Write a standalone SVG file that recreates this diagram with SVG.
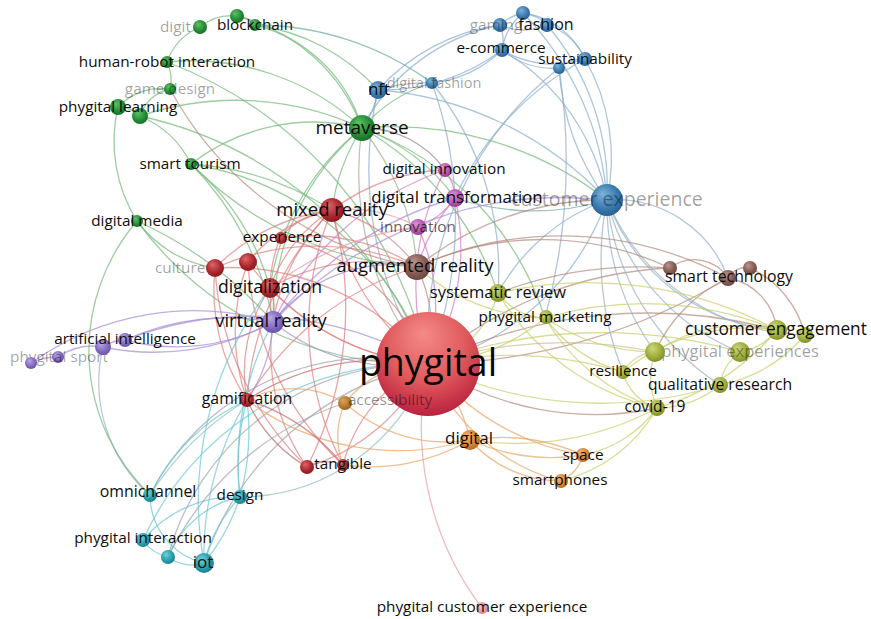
<svg xmlns="http://www.w3.org/2000/svg" width="871" height="619" viewBox="0 0 871 619">
<defs>
<radialGradient id="gr" cx="0.45" cy="0.4" r="0.6" fx="0.35" fy="0.3"><stop offset="0" stop-color="#dc6868"/><stop offset="0.7" stop-color="#a8242c"/><stop offset="1" stop-color="#8a1c22"/></radialGradient>
<radialGradient id="gg" cx="0.45" cy="0.4" r="0.6" fx="0.35" fy="0.3"><stop offset="0" stop-color="#5fc266"/><stop offset="0.7" stop-color="#238a34"/><stop offset="1" stop-color="#1a6e29"/></radialGradient>
<radialGradient id="gb" cx="0.45" cy="0.4" r="0.6" fx="0.35" fy="0.3"><stop offset="0" stop-color="#7eb3da"/><stop offset="0.7" stop-color="#3878ac"/><stop offset="1" stop-color="#2a6290"/></radialGradient>
<radialGradient id="gv" cx="0.45" cy="0.4" r="0.6" fx="0.35" fy="0.3"><stop offset="0" stop-color="#bca8e8"/><stop offset="0.7" stop-color="#8068be"/><stop offset="1" stop-color="#6a54a6"/></radialGradient>
<radialGradient id="gbr" cx="0.45" cy="0.4" r="0.6" fx="0.35" fy="0.3"><stop offset="0" stop-color="#bc968e"/><stop offset="0.7" stop-color="#825a52"/><stop offset="1" stop-color="#6c4842"/></radialGradient>
<radialGradient id="go" cx="0.45" cy="0.4" r="0.6" fx="0.35" fy="0.3"><stop offset="0" stop-color="#cfd87c"/><stop offset="0.7" stop-color="#9cab38"/><stop offset="1" stop-color="#808e2a"/></radialGradient>
<radialGradient id="gor" cx="0.45" cy="0.4" r="0.6" fx="0.35" fy="0.3"><stop offset="0" stop-color="#f5bb7c"/><stop offset="0.7" stop-color="#d68034"/><stop offset="1" stop-color="#b86a26"/></radialGradient>
<radialGradient id="gac" cx="0.45" cy="0.4" r="0.6" fx="0.35" fy="0.3"><stop offset="0" stop-color="#d9a560"/><stop offset="0.7" stop-color="#b47a2a"/><stop offset="1" stop-color="#966220"/></radialGradient>
<radialGradient id="gc" cx="0.45" cy="0.4" r="0.6" fx="0.35" fy="0.3"><stop offset="0" stop-color="#72d0dc"/><stop offset="0.7" stop-color="#269caa"/><stop offset="1" stop-color="#1c808c"/></radialGradient>
<radialGradient id="gm" cx="0.45" cy="0.4" r="0.6" fx="0.35" fy="0.3"><stop offset="0" stop-color="#de94d6"/><stop offset="0.7" stop-color="#b454ac"/><stop offset="1" stop-color="#923e8c"/></radialGradient>
<radialGradient id="gpk" cx="0.45" cy="0.4" r="0.6" fx="0.35" fy="0.3"><stop offset="0" stop-color="#f4c4c8"/><stop offset="0.7" stop-color="#e49aa2"/><stop offset="1" stop-color="#d08890"/></radialGradient>
<radialGradient id="gbig" cx="0.5" cy="0.35" r="0.7" fx="0.45" fy="0.2"><stop offset="0" stop-color="#f48a88"/><stop offset="0.55" stop-color="#e05a5c"/><stop offset="1" stop-color="#b41a3c"/></radialGradient>
</defs>
<style>
#edges path{fill:none;stroke-opacity:.7;stroke-width:1.3;stroke-linecap:round}
.r{stroke:#e07f7f}.dr{stroke:#c4686a}.g{stroke:#74b878}.b{stroke:#8aaecd}.v{stroke:#a68ad6}.br{stroke:#b48a7c}.o{stroke:#c8cf6a}.or{stroke:#e9a464}.c{stroke:#6cc6d4}.m{stroke:#d07cc4}.gy{stroke:#9da3aa}.gg{stroke:#a2ac90}.pk{stroke:#e5a0a4}.cg{stroke:#8fbfc6}.bt{stroke:#6fa6a6}.tn{stroke:#c9bb95}.bg{stroke:#9ab0c8}.db{stroke:#8f7f7c}
text{font-family:"Open Sans","Noto Sans","DejaVu Sans",sans-serif;text-anchor:middle;font-size:15.3px;fill:#0d0d0d}
text.f{fill:#000;fill-opacity:.38}
.nr{fill:url(#gr)}.ng{fill:url(#gg)}.nb{fill:url(#gb)}.nv{fill:url(#gv)}.nbr{fill:url(#gbr)}.no{fill:url(#go)}.nor{fill:url(#gor)}.nac{fill:url(#gac)}.nc{fill:url(#gc)}.nm{fill:url(#gm)}.npk{fill:url(#gpk)}
</style>
<rect width="871" height="619" fill="#ffffff"/>
<g id="edges">
<path class="b" stroke-width="6" d="M607,200 A260 260 0 0 1 428,364"/>
<path class="gg" stroke-width="5" d="M428,364 A300 300 0 0 1 362,128"/>
<path class="v" stroke-width="5" d="M428,364 A200 200 0 0 1 273,322"/>
<path class="gy" stroke-width="4.5" d="M204,563 A300 300 0 0 1 428,364"/>
<path class="gy" stroke-width="4" d="M150,495 A250 250 0 0 1 428,364"/>
<path class="cg" stroke-width="3.5" d="M428,364 A200 200 0 0 1 240,497"/>
<path class="br" stroke-width="4" d="M417,267 A150 150 0 0 1 428,364"/>
<path class="r" stroke-width="4" d="M332,210 A250 250 0 0 0 428,364"/>
<path class="r" stroke-width="3" d="M270,288 A250 250 0 0 0 428,364"/>
<path class="or" stroke-width="4" d="M428,364 A150 150 0 0 1 470,440"/>
<path class="m" stroke-width="3" d="M455,198 A220 220 0 0 1 428,364"/>
<path class="br" stroke-width="2.5" d="M728,278 A600 600 0 0 1 428,364"/>
<path class="br" stroke-width="3.5" d="M657,408 A300 300 0 0 1 428,364"/>
<path class="br" stroke-width="2" d="M428,364 A500 500 0 0 1 777,330"/>
<path class="tn" stroke-width="2" d="M428,364 A450 450 0 0 1 655,352"/>
<path class="dr" stroke-width="3.5" d="M247,400 A250 250 0 0 1 428,364"/>
<path class="v" stroke-width="2.5" d="M125,340 A350 350 0 0 1 428,364"/>
<path class="pk" stroke-width="1.5" d="M482,608 A300 300 0 0 1 428,364"/>
<path class="or" stroke-width="2" d="M583,455 A250 250 0 0 1 428,364"/>
<path class="or" stroke-width="2" d="M428,364 A200 200 0 0 0 560,481"/>
<path class="or" stroke-width="1.5" d="M345,403 A100 100 0 0 1 428,364"/>
<path class="r" stroke-width="2" d="M343,465 A150 150 0 0 1 428,364"/>
<path class="r" stroke-width="2" d="M307,467 A200 200 0 0 0 428,364"/>
<path class="o" stroke-width="1.5" d="M498,293 A100 100 0 0 1 428,364"/>
<path class="o" stroke-width="1.5" d="M545,318 A200 200 0 0 1 428,364"/>
<path class="b" stroke-width="1.5" d="M378,90 A350 350 0 0 0 428,364"/>
<path class="b" d="M432,83 A400 400 0 0 1 428,364"/>
<path class="g" stroke-width="1.5" d="M191,164 A300 300 0 0 1 428,364"/>
<path class="g" d="M140,116 A400 400 0 0 1 428,364"/>
<path class="g" d="M137,221 A350 350 0 0 0 428,364"/>
<path class="o" stroke-width="1.5" d="M428,364 A400 400 0 0 1 623,372"/>
<path class="o" stroke-width="1.5" d="M720,385 A400 400 0 0 1 428,364"/>
<path class="b" d="M559,68 A350 350 0 0 0 428,364"/>
<path class="r" stroke-width="1.5" d="M215,268 A250 250 0 0 1 428,364"/>
<path class="r" stroke-width="1.5" d="M248,262 A250 250 0 0 0 428,364"/>
<path class="r" stroke-width="1.5" d="M280,238 A200 200 0 0 1 428,364"/>
<path class="m" stroke-width="2" d="M418,227 A200 200 0 0 1 428,364"/>
<path class="m" stroke-width="2" d="M445,170 A250 250 0 0 0 428,364"/>
<path class="g" stroke-width="1" d="M167,62 A420 420 0 0 1 428,364"/>
<path class="gy" stroke-width="1.5" d="M168,557 A260 260 0 0 1 428,364"/>
<path class="c" stroke-width="1.5" d="M143,540 A300 300 0 0 1 428,364"/>
<path class="o" d="M740,352 A500 500 0 0 0 428,364"/>
<path class="br" d="M670,268 A400 400 0 0 0 428,364"/>
<path class="g" stroke-width="2" d="M255,25 A150 150 0 0 1 362,128"/>
<path class="g" stroke-width="1.5" d="M237,16 A180 180 0 0 1 362,128"/>
<path class="g" d="M167,62 A250 250 0 0 1 362,128"/>
<path class="bt" stroke-width="3" d="M378,90 A80 80 0 0 1 362,128"/>
<path class="g" d="M362,128 A150 150 0 0 1 432,83"/>
<path class="db" stroke-width="3" d="M362,128 A100 100 0 0 1 445,170"/>
<path class="g" d="M362,128 A200 200 0 0 1 455,198"/>
<path class="g" stroke-width="3" d="M362,128 A200 200 0 0 0 332,210"/>
<path class="gg" stroke-width="2" d="M362,128 A250 250 0 0 1 417,267"/>
<path class="g" d="M273,322 A250 250 0 0 1 362,128"/>
<path class="g" d="M362,128 A350 350 0 0 1 607,200"/>
<path class="g" stroke-width="1" d="M362,128 A300 300 0 0 1 498,293"/>
<path class="g" d="M191,164 A200 200 0 0 1 362,128"/>
<path class="g" stroke-width="1" d="M140,116 A300 300 0 0 1 362,128"/>
<path class="g" stroke-width="1" d="M270,288 A250 250 0 0 1 362,128"/>
<path class="b" stroke-width="1" d="M362,128 A200 200 0 0 1 500,25"/>
<path class="g" stroke-width="1" d="M362,128 A300 300 0 0 1 545,318"/>
<path class="b" stroke-width="2.5" d="M378,90 A150 150 0 0 1 432,83"/>
<path class="b" stroke-width="2" d="M378,90 A200 200 0 0 0 502,50"/>
<path class="b" stroke-width="1.5" d="M432,83 A120 120 0 0 0 502,50"/>
<path class="b" stroke-width="1.5" d="M502,50 A60 60 0 0 1 523,13"/>
<path class="b" stroke-width="1.5" d="M502,50 A40 40 0 0 0 500,25"/>
<path class="b" stroke-width="1.5" d="M500,25 A50 50 0 0 1 523,13"/>
<path class="b" stroke-width="1.5" d="M523,13 A40 40 0 0 1 547,25"/>
<path class="b" stroke-width="1.5" d="M500,25 A60 60 0 0 0 547,25"/>
<path class="b" stroke-width="1.5" d="M502,50 A80 80 0 0 0 559,68"/>
<path class="b" stroke-width="1.5" d="M547,25 A60 60 0 0 1 585,59"/>
<path class="b" stroke-width="1.5" d="M523,13 A80 80 0 0 1 585,59"/>
<path class="b" stroke-width="1.5" d="M502,50 A100 100 0 0 0 585,59"/>
<path class="b" d="M559,68 A40 40 0 0 1 585,59"/>
<path class="b" d="M378,90 A200 200 0 0 1 500,25"/>
<path class="b" stroke-width="1.5" d="M547,25 A250 250 0 0 1 607,200"/>
<path class="b" stroke-width="1.5" d="M523,13 A300 300 0 0 1 607,200"/>
<path class="b" stroke-width="1.5" d="M585,59 A200 200 0 0 1 607,200"/>
<path class="b" stroke-width="1.5" d="M559,68 A250 250 0 0 0 607,200"/>
<path class="b" stroke-width="1.5" d="M502,50 A220 220 0 0 1 607,200"/>
<path class="b" d="M559,68 A600 600 0 0 1 545,318"/>
<path class="b" d="M378,90 A350 350 0 0 1 607,200"/>
<path class="bg" d="M607,200 A120 120 0 0 1 728,278"/>
<path class="bg" stroke-width="1.5" d="M777,330 A200 200 0 0 1 607,200"/>
<path class="bg" stroke-width="1.5" d="M805,335 A220 220 0 0 1 607,200"/>
<path class="bg" d="M655,352 A250 250 0 0 1 607,200"/>
<path class="bg" d="M623,372 A300 300 0 0 1 607,200"/>
<path class="bg" d="M740,352 A220 220 0 0 1 607,200"/>
<path class="bg" d="M720,385 A250 250 0 0 1 607,200"/>
<path class="bt" stroke-width="1.5" d="M607,200 A250 250 0 0 1 455,198"/>
<path class="v" d="M273,322 A400 400 0 0 1 607,200"/>
<path class="br" d="M417,267 A300 300 0 0 1 607,200"/>
<path class="b" stroke-width="1" d="M607,200 A200 200 0 0 0 498,293"/>
<path class="b" stroke-width="1" d="M432,83 A300 300 0 0 1 498,293"/>
<path class="b" stroke-width="1" d="M585,59 A300 300 0 0 0 455,198"/>
<path class="br" stroke-width="1.5" d="M417,267 A350 350 0 0 1 728,278"/>
<path class="br" stroke-width="1.5" d="M417,267 A300 300 0 0 1 670,268"/>
<path class="br" d="M498,293 A400 400 0 0 1 670,268"/>
<path class="br" stroke-width="1.5" d="M728,278 A60 60 0 0 1 777,330"/>
<path class="br" d="M670,268 A40 40 0 0 1 728,278"/>
<path class="br" d="M728,278 A20 20 0 0 1 750,268"/>
<path class="br" d="M728,278 A150 150 0 0 0 655,352"/>
<path class="br" d="M750,268 A100 100 0 0 1 805,335"/>
<path class="o" stroke-width="1.5" d="M498,293 A60 60 0 0 0 545,318"/>
<path class="o" stroke-width="1.5" d="M498,293 A400 400 0 0 1 777,330"/>
<path class="o" stroke-width="1.5" d="M545,318 A350 350 0 0 1 777,330"/>
<path class="o" d="M545,318 A200 200 0 0 0 655,352"/>
<path class="o" d="M545,318 A150 150 0 0 0 623,372"/>
<path class="o" d="M545,318 A200 200 0 0 0 657,408"/>
<path class="o" stroke-width="1.5" d="M777,330 A150 150 0 0 0 655,352"/>
<path class="o" stroke-width="1.5" d="M777,330 A60 60 0 0 1 740,352"/>
<path class="o" stroke-width="1.5" d="M740,352 A50 50 0 0 0 720,385"/>
<path class="o" stroke-width="1.5" d="M720,385 A100 100 0 0 1 657,408"/>
<path class="o" stroke-width="1.5" d="M655,352 A80 80 0 0 0 657,408"/>
<path class="o" stroke-width="1.5" d="M655,352 A40 40 0 0 0 623,372"/>
<path class="o" stroke-width="1.5" d="M623,372 A50 50 0 0 0 657,408"/>
<path class="o" d="M657,408 A120 120 0 0 1 583,455"/>
<path class="o" d="M657,408 A150 150 0 0 1 560,481"/>
<path class="o" d="M657,408 A300 300 0 0 1 470,440"/>
<path class="o" d="M777,330 A200 200 0 0 0 623,372"/>
<path class="o" d="M805,335 A150 150 0 0 1 720,385"/>
<path class="o" stroke-width="1" d="M498,293 A250 250 0 0 0 657,408"/>
<path class="o" stroke-width="1" d="M777,330 A250 250 0 0 1 657,408"/>
<path class="o" stroke-width="1" d="M417,267 A200 200 0 0 0 545,318"/>
<path class="or" stroke-width="2" d="M470,440 A200 200 0 0 0 583,455"/>
<path class="or" stroke-width="2" d="M470,440 A120 120 0 0 0 560,481"/>
<path class="or" d="M583,455 A40 40 0 0 1 560,481"/>
<path class="or" stroke-width="1.5" d="M345,403 A150 150 0 0 0 470,440"/>
<path class="or" d="M345,403 A80 80 0 0 0 343,465"/>
<path class="or" d="M247,400 A100 100 0 0 1 345,403"/>
<path class="or" stroke-width="1.5" d="M343,465 A200 200 0 0 0 470,440"/>
<path class="or" d="M247,400 A250 250 0 0 0 470,440"/>
<path class="or" stroke-width="1" d="M470,440 A200 200 0 0 1 583,455"/>
<path class="r" stroke-width="2" d="M332,210 A80 80 0 0 0 280,238"/>
<path class="r" stroke-width="2" d="M332,210 A150 150 0 0 0 270,288"/>
<path class="r" stroke-width="1.5" d="M332,210 A200 200 0 0 0 215,268"/>
<path class="r" stroke-width="1.5" d="M332,210 A150 150 0 0 0 248,262"/>
<path class="r" stroke-width="2" d="M332,210 A150 150 0 0 1 417,267"/>
<path class="r" stroke-width="2" d="M332,210 A200 200 0 0 0 273,322"/>
<path class="r" stroke-width="1.5" d="M332,210 A300 300 0 0 0 247,400"/>
<path class="r" stroke-width="1.5" d="M332,210 A350 350 0 0 1 307,467"/>
<path class="r" stroke-width="1.5" d="M270,288 A60 60 0 0 1 273,322"/>
<path class="r" stroke-width="1.5" d="M270,288 A150 150 0 0 0 247,400"/>
<path class="r" d="M215,268 A200 200 0 0 0 247,400"/>
<path class="r" d="M215,268 A300 300 0 0 0 307,467"/>
<path class="r" d="M248,262 A300 300 0 0 0 343,465"/>
<path class="r" d="M248,262 A200 200 0 0 0 247,400"/>
<path class="r" d="M280,238 A200 200 0 0 1 417,267"/>
<path class="r" d="M280,238 A150 150 0 0 0 273,322"/>
<path class="dr" stroke-width="1.5" d="M247,400 A150 150 0 0 0 307,467"/>
<path class="r" d="M307,467 A40 40 0 0 1 343,465"/>
<path class="r" d="M273,322 A200 200 0 0 0 307,467"/>
<path class="r" d="M270,288 A200 200 0 0 1 417,267"/>
<path class="r" d="M332,210 A200 200 0 0 1 445,170"/>
<path class="r" stroke-width="1" d="M247,400 A300 300 0 0 1 417,267"/>
<path class="r" stroke-width="1" d="M215,268 A250 250 0 0 1 417,267"/>
<path class="dr" d="M247,400 A200 200 0 0 1 343,465"/>
<path class="r" stroke-width="1" d="M332,210 A300 300 0 0 0 343,465"/>
<path class="v" stroke-width="2" d="M125,340 A250 250 0 0 1 273,322"/>
<path class="v" stroke-width="2" d="M273,322 A200 200 0 0 1 125,340"/>
<path class="v" stroke-width="2" d="M31,363 A280 280 0 0 1 273,322"/>
<path class="v" stroke-width="2.5" d="M31,363 A60 60 0 0 1 58,357"/>
<path class="v" stroke-width="2.5" d="M58,357 A60 60 0 0 1 103,347"/>
<path class="v" stroke-width="2" d="M103,347 A40 40 0 0 1 125,340"/>
<path class="v" stroke-width="1.5" d="M103,347 A250 250 0 0 0 273,322"/>
<path class="bg" d="M150,495 A150 150 0 0 1 103,347"/>
<path class="g" d="M150,495 A200 200 0 0 1 137,221"/>
<path class="v" d="M273,322 A150 150 0 0 1 417,267"/>
<path class="v" d="M247,400 A150 150 0 0 0 273,322"/>
<path class="v" d="M273,322 A350 350 0 0 1 455,198"/>
<path class="c" stroke-width="2.5" d="M240,497 A200 200 0 0 1 204,563"/>
<path class="c" stroke-width="1.5" d="M240,497 A150 150 0 0 0 204,563"/>
<path class="c" stroke-width="1.5" d="M150,495 A70 70 0 0 0 204,563"/>
<path class="c" stroke-width="1.5" d="M168,557 A40 40 0 0 0 204,563"/>
<path class="c" stroke-width="1.5" d="M143,540 A40 40 0 0 0 168,557"/>
<path class="c" d="M240,497 A100 100 0 0 0 168,557"/>
<path class="c" d="M143,540 A120 120 0 0 1 240,497"/>
<path class="c" stroke-width="1.5" d="M240,497 A250 250 0 0 0 247,400"/>
<path class="c" stroke-width="1.5" d="M240,497 A250 250 0 0 1 247,400"/>
<path class="c" d="M204,563 A300 300 0 0 1 247,400"/>
<path class="c" d="M240,497 A300 300 0 0 1 273,322"/>
<path class="c" d="M150,495 A200 200 0 0 1 247,400"/>
<path class="gy" stroke-width="1" d="M168,557 A300 300 0 0 1 345,403"/>
<path class="c" stroke-width="1" d="M204,563 A350 350 0 0 1 270,288"/>
<path class="cg" stroke-width="2" d="M150,495 A300 300 0 0 1 247,400"/>
<path class="g" stroke-width="1.5" d="M237,16 A30 30 0 0 1 255,25"/>
<path class="g" stroke-width="1.5" d="M200,27 A50 50 0 0 1 237,16"/>
<path class="g" stroke-width="1.5" d="M200,27 A60 60 0 0 0 167,62"/>
<path class="g" stroke-width="1.5" d="M167,62 A40 40 0 0 1 170,89"/>
<path class="g" stroke-width="1.5" d="M170,89 A40 40 0 0 0 140,116"/>
<path class="g" stroke-width="1.5" d="M170,89 A60 60 0 0 0 118,107"/>
<path class="g" stroke-width="1.5" d="M118,107 A30 30 0 0 1 140,116"/>
<path class="g" stroke-width="1.5" d="M140,116 A100 100 0 0 1 191,164"/>
<path class="g" stroke-width="1.5" d="M137,221 A150 150 0 0 1 118,107"/>
<path class="g" d="M191,164 A300 300 0 0 1 273,322"/>
<path class="g" d="M191,164 A250 250 0 0 1 270,288"/>
<path class="g" d="M191,164 A300 300 0 0 1 332,210"/>
<path class="g" d="M191,164 A350 350 0 0 0 417,267"/>
<path class="g" d="M137,221 A400 400 0 0 1 273,322"/>
<path class="g" d="M137,221 A120 120 0 0 0 215,268"/>
<path class="br" d="M170,89 A350 350 0 0 0 417,267"/>
<path class="bt" d="M255,25 A300 300 0 0 1 432,83"/>
<path class="g" stroke-width="1" d="M255,25 A200 200 0 0 1 378,90"/>
<path class="m" stroke-width="3" d="M445,170 A50 50 0 0 1 455,198"/>
<path class="m" stroke-width="1.5" d="M455,198 A80 80 0 0 1 418,227"/>
<path class="pk" d="M418,227 A150 150 0 0 0 332,210"/>
<path class="m" d="M455,198 A200 200 0 0 0 417,267"/>
<path class="m" stroke-width="1" d="M445,170 A300 300 0 0 0 273,322"/>
<path class="pk" stroke-width="1" d="M418,227 A300 300 0 0 0 270,288"/>
</g>
<g id="n-customer-experience"><circle class="nb" cx="607" cy="200" r="16"/><text class="f" x="607" y="206" style="font-size:19.5px">customer experience</text></g>
<g id="n-phygital-experiences"><circle class="no" cx="740" cy="352" r="10"/><text class="f" x="740" y="357" style="font-size:16.5px">phygital experiences</text></g>
<g id="n-game-design"><circle class="ng" cx="170" cy="89" r="6"/><text class="f" x="170" y="94">game design</text></g>
<g id="n-gaming"><circle class="nb" cx="500" cy="25" r="7"/><text class="f" x="496" y="30">gaming</text></g>
<g id="n-digit"><circle class="ng" cx="200" cy="27" r="7"/><text class="f" x="160" y="32" style="text-anchor:start">digit</text></g>
<g id="n-culture"><circle class="nr" cx="215" cy="268" r="9"/><text class="f" x="155" y="273" style="text-anchor:start">culture</text></g>
<g id="n-phygital-sport"><circle class="nv" cx="58" cy="357" r="6"/><text class="f" x="59" y="362">phygital sport</text></g>
<g id="n-digital-fashion"><circle class="nb" cx="432" cy="83" r="6"/><text class="f" x="434" y="88" style="font-size:14.5px">digital fashion</text></g>
<g id="n-phygital"><circle cx="428" cy="364" r="52" fill="url(#gbig)"/><text x="428" y="376" style="font-size:37.5px;fill:#050505">phygital</text></g>
<g id="n-dots">
<circle class="ng" cx="237" cy="16" r="7"/>
<circle class="ng" cx="140" cy="116" r="8"/>
<circle class="nb" cx="523" cy="13" r="7"/>
<circle class="nb" cx="559" cy="68" r="6"/>
<circle class="nr" cx="248" cy="262" r="9"/>
<circle class="nr" cx="307" cy="467" r="7"/>
<circle class="nv" cx="103" cy="347" r="8"/>
<circle class="nv" cx="31" cy="363" r="6"/>
<circle class="nbr" cx="670" cy="268" r="7"/>
<circle class="nbr" cx="750" cy="268" r="7"/>
<circle class="no" cx="805" cy="335" r="8"/>
<circle class="no" cx="655" cy="352" r="10"/>
<circle class="nac" cx="345" cy="403" r="7"/>
<circle class="nc" cx="168" cy="557" r="7"/>
</g>
<g id="n-accessibility"><text x="390" y="405" style="fill:#000;fill-opacity:.45">accessibility</text></g>
<g id="n-blockchain"><circle class="ng" cx="255" cy="25" r="6"/><text x="255" y="30">blockchain</text></g>
<g id="n-human-robot-interaction"><circle class="ng" cx="167" cy="62" r="6"/><text x="167" y="67">human-robot interaction</text></g>
<g id="n-phygital-learning"><circle class="ng" cx="118" cy="107" r="8"/><text x="118" y="112">phygital learning</text></g>
<g id="n-smart-tourism"><circle class="ng" cx="191" cy="164" r="6"/><text x="190" y="169">smart tourism</text></g>
<g id="n-digital-media"><circle class="ng" cx="137" cy="221" r="6"/><text x="137" y="226">digital media</text></g>
<g id="n-metaverse"><circle class="ng" cx="362" cy="128" r="13"/><text x="362" y="134" style="font-size:19px">metaverse</text></g>
<g id="n-nft"><circle class="nb" cx="378" cy="90" r="9"/><text x="379" y="95" style="font-size:17px">nft</text></g>
<g id="n-fashion"><circle class="nb" cx="547" cy="25" r="7"/><text x="546" y="30" style="font-size:16px">fashion</text></g>
<g id="n-e-commerce"><circle class="nb" cx="502" cy="50" r="7"/><text x="501" y="53">e-commerce</text></g>
<g id="n-sustainability"><circle class="nb" cx="585" cy="59" r="7"/><text x="585" y="64">sustainability</text></g>
<g id="n-digital-innovation"><circle class="nm" cx="445" cy="170" r="7"/><text x="444" y="174">digital innovation</text></g>
<g id="n-digital-transformation"><circle class="nm" cx="455" cy="198" r="9"/><text x="457" y="203" style="font-size:16.9px">digital transformation</text></g>
<g id="n-innovation"><circle class="nm" cx="418" cy="227" r="8"/><text class="f" x="418" y="232" style="fill-opacity:.65">innovation</text></g>
<g id="n-mixed-reality"><circle class="nr" cx="332" cy="210" r="12"/><text x="332" y="216" style="font-size:18.5px">mixed reality</text></g>
<g id="n-experience"><circle class="nr" cx="281" cy="238" r="6"/><text x="282" y="242">experience</text></g>
<g id="n-digitalization"><circle class="nr" cx="270" cy="288" r="10"/><text x="270" y="293" style="font-size:17.6px">digitalization</text></g>
<g id="n-augmented-reality"><circle class="nbr" cx="417" cy="267" r="13"/><text x="415" y="272" style="font-size:18.5px">augmented reality</text></g>
<g id="n-virtual-reality"><circle class="nv" cx="273" cy="322" r="11"/><text x="271" y="327" style="font-size:18.3px">virtual reality</text></g>
<g id="n-artificial-intelligence"><circle class="nv" cx="125" cy="340" r="7"/><text x="125" y="344">artificial intelligence</text></g>
<g id="n-gamification"><circle class="nr" cx="247" cy="400" r="7"/><text x="247" y="404" style="font-size:15.8px">gamification</text></g>
<g id="n-tangible"><circle class="nr" cx="343" cy="465" r="6"/><text x="343" y="469">tangible</text></g>
<g id="n-smart-technology"><circle class="nbr" cx="728" cy="278" r="8"/><text x="729" y="282" style="font-size:15.8px">smart technology</text></g>
<g id="n-systematic-review"><circle class="no" cx="498" cy="293" r="9"/><text x="498" y="298" style="font-size:16.5px">systematic review</text></g>
<g id="n-phygital-marketing"><circle class="no" cx="546" cy="317" r="7"/><text x="545" y="322">phygital marketing</text></g>
<g id="n-customer-engagement"><circle class="no" cx="777" cy="330" r="10"/><text x="776" y="335" style="font-size:17.3px">customer engagement</text></g>
<g id="n-resilience"><circle class="no" cx="623" cy="372" r="7"/><text x="623" y="376">resilience</text></g>
<g id="n-qualitative-research"><circle class="no" cx="720" cy="385" r="8"/><text x="720" y="390" style="font-size:15.7px">qualitative research</text></g>
<g id="n-covid-19"><circle class="no" cx="657" cy="408" r="8"/><text x="655" y="412" style="font-size:15.6px">covid-19</text></g>
<g id="n-digital"><circle class="nor" cx="470" cy="440" r="10"/><text x="469" y="444" style="font-size:17px">digital</text></g>
<g id="n-space"><circle class="nor" cx="583" cy="455" r="7"/><text x="583" y="460">space</text></g>
<g id="n-smartphones"><circle class="nor" cx="561" cy="481" r="7"/><text x="560" y="485">smartphones</text></g>
<g id="n-omnichannel"><circle class="nc" cx="150" cy="495" r="7"/><text x="148" y="497" style="font-size:15.9px">omnichannel</text></g>
<g id="n-design"><circle class="nc" cx="240" cy="497" r="7"/><text x="240" y="500">design</text></g>
<g id="n-phygital-interaction"><circle class="nc" cx="143" cy="540" r="7"/><text x="143" y="543">phygital interaction</text></g>
<g id="n-iot"><circle class="nc" cx="204" cy="563" r="10"/><text x="203" y="568" style="font-size:17px">iot</text></g>
<g id="n-phygital-customer-experience"><circle class="npk" cx="482" cy="608" r="6"/><text x="482" y="612">phygital customer experience</text></g>
</svg>
